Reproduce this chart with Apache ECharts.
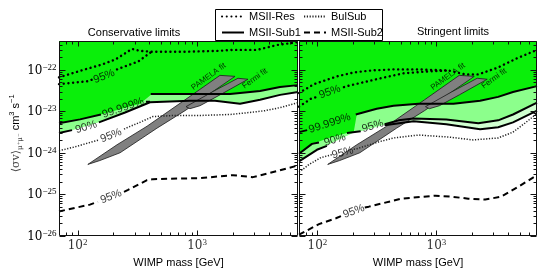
<!DOCTYPE html>
<html>
<head>
<meta charset="utf-8">
<script src="https://cdn.jsdelivr.net/npm/echarts@6.0.0/dist/echarts.min.js"></script>
<style>html,body{margin:0;padding:0;background:#fff;}#chart{width:540px;height:273px;}</style>
</head>
<body>
<div id="chart"></div>
<script>
// ===== tick values =====
const xTickMajor = [100, 1000];
const xTickMinor = [80, 90, 200, 300, 400, 500, 600, 700, 800, 900, 2000, 3000, 4000, 5000, 6000];
const yTickMajor = [1e-26, 1e-25, 1e-24, 1e-23, 1e-22];
const yTickExp = ['−26', '−25', '−24', '−23', '−22'];
const yTickMinor = [2e-26,3e-26,4e-26,5e-26,6e-26,7e-26,8e-26,9e-26,
  2e-25,3e-25,4e-25,5e-25,6e-25,7e-25,8e-25,9e-25,
  2e-24,3e-24,4e-24,5e-24,6e-24,7e-24,8e-24,9e-24,
  2e-23,3e-23,4e-23,5e-23,6e-23,7e-23,8e-23,9e-23,
  2e-22,3e-22,4e-22];
const yTop = 5e-22;

// ===== Conservative limits (left) : [mass GeV, <sigma v> cm^3/s], null = gap for a label =====
const resUpperC = [[70,6.65e-23],[95,8.7e-23],[122,1.08e-22],[160,1.35e-22],[206,1.77e-22],[286,3.22e-22],[333,2.89e-22],[420,2.74e-22],[748,2.74e-22],[1500,2.89e-22],[2000,3.05e-22],[3180,3.05e-22],[4670,4.0e-22],[6240,4.47e-22],[7000,4.7e-22]];
const resLowerC = [[70,4.54e-23],[122,5.35e-23],[135,5.96e-23],null,[214,1.03e-22],[236,1.15e-22],[321,1.59e-22],[404,2.59e-22],[420,2.74e-22]];
const sub1HiC = [[70,5.15e-24],[105,6.4e-24],[157,8.4e-24],null,[374,1.71e-23],[404,1.71e-23],null,[410,2.64e-23],[873,2.64e-23],[1890,2.64e-23],[3370,3.10e-23],[4950,3.86e-23],[7000,4.3e-23]];
const sub1LoC = [[70,2.99e-24],[90,3.52e-24],null,[151,5.43e-24],[250,9.4e-24],[404,1.66e-23],[873,1.80e-23],[1415,1.80e-23],[2290,1.53e-23],[3370,1.90e-23],[4950,2.5e-23],[7000,2.94e-23]];
const brightEdgeC = [[70,5.15e-24],[105,6.4e-24],[157,8.4e-24],[250,1.23e-23],[333,1.53e-23],[420,2.64e-23],[873,2.64e-23],[1890,2.64e-23],[3370,3.10e-23],[4950,3.86e-23],[7000,4.3e-23]];
const bulSubC = [[70,1.12e-24],[95,1.39e-24],[151,2.04e-24],null,[245,3.72e-24],[265,4.14e-24],[333,5.43e-24],[428,7.5e-24],[655,7.96e-24],[1060,7.96e-24],[1890,8.4e-24],[2770,9.4e-24],[3710,1.04e-23],[4950,1.23e-23],[7000,1.62e-23]];
const sub2C = [[70,3.84e-26],[127,5.6e-26],[148,6.6e-26],null,[245,1.14e-25],[265,1.27e-25],[382,2.19e-25],[428,2.31e-25],[1060,2.44e-25],[2000,2.88e-25],[2940,2.58e-25],[4950,3.78e-25],[7000,4.95e-25]];

// ===== Stringent limits (right) =====
const resUpperS = [[70,2.78e-23],[93.5,4.54e-23],[146,7.0e-23],[202,8.7e-23],[281,9.7e-23],[436,1.03e-22],[707,1.03e-22],[1260,9.7e-23],[1750,7.8e-23],[2250,7.8e-23],[3300,1.15e-22],[4670,1.87e-22],[7000,3.05e-22]];
const resLowerS = [[70,1.30e-23],[88,2.01e-23],[99,2.24e-23],null,[167,3.86e-23],[177,4.07e-23],[245,5.06e-23],[340,6.3e-23],[529,8.3e-23],[857,9.2e-23],[1260,9.7e-23]];
const sub1HiS = [[70,3.15e-24],[82,3.52e-24],null,[210,8.4e-24],[315,1.16e-23],[436,1.37e-23],[707,1.53e-23],[1390,1.53e-23],[2330,1.80e-23],[3300,2.24e-23],[4400,2.94e-23],[7000,4.07e-23]];
const sub1MidS = [[70,9.5e-25],[90,1.64e-24],[103,1.78e-24],null,[177,2.99e-24],[231,3.33e-24],null,[367,4.88e-24],[481,6.07e-24],[642,6.76e-24],[1210,6.4e-24],[2250,5.15e-24],[3300,6.07e-24],[4400,8.4e-24],[7000,1.62e-23]];
const sub1LoS = [[70,6.17e-25],[99,1.18e-24],[120,1.47e-24],null,[367,4.62e-24],[642,5.74e-24],[1210,4.88e-24],[2330,3.72e-24],[3300,4.14e-24],[4400,5.43e-24],[7000,1.04e-23]];
const brightEdgeS = [[70,9.0e-25],[90,1.64e-24],[125,2.28e-24],[177,2.99e-24],[202,3.24e-24],[214,8.4e-24],[315,1.16e-23],[436,1.37e-23],[707,1.53e-23],[1390,1.53e-23],[2330,1.80e-23],[3300,2.24e-23],[4400,2.94e-23],[7000,4.07e-23]];
const lightEdgeS = [[70,6.17e-25],[99,1.18e-24],[137,1.83e-24],[202,3.07e-24],[231,3.33e-24],[367,4.88e-24],[481,6.07e-24],[642,6.76e-24],[1210,6.4e-24],[2250,5.15e-24],[3300,6.07e-24],[4400,8.4e-24],[7000,1.62e-23]];
const paleEdgeS = [[70,6.17e-25],[99,1.18e-24],[137,1.83e-24],[202,3.07e-24],[231,3.33e-24],[367,4.62e-24],[642,5.74e-24],[1210,4.88e-24],[2330,3.72e-24],[3300,4.14e-24],[4400,5.43e-24],[7000,1.04e-23]];
const bulSubS = [[70,3.39e-25],[85,5.23e-25],[107,7.66e-25],[132,9.0e-25],null,[202,1.22e-24],[214,1.25e-24],[327,1.83e-24],[436,2.28e-24],[707,2.68e-24],[1260,2.40e-24],[2040,2.04e-24],[3300,2.28e-24],[4400,3.15e-24],[5660,5.43e-24],[7000,8.9e-24]];
const sub2S = [[70,1.05e-26],[103,1.89e-26],[143,2.62e-26],[160,3.0e-26],null,[250,4.77e-26],[270,5.0e-26],[509,7.8e-26],[982,9.2e-26],[1340,8.7e-26],[1850,7.8e-26],[2570,7.4e-26],[3500,8.7e-26],[4860,1.5e-25],[7000,2.88e-25]];

// ===== fit regions (same in both panels) =====
const pamela = [[122,5.23e-25],[214,1.56e-24],[382,4.38e-24],[794,1.90e-23],[1556,7.4e-23],[2080,7.0e-23],[794,1.04e-23],[462,3.92e-24],[227,1.0e-24],[154,6.5e-25]];
const fermi = [[809,1.30e-23],[1340,2.94e-23],[2200,6.3e-23],[2670,5.96e-23],[1556,2.50e-23],[1060,1.37e-23],[873,1.16e-23]];

// ===== contour labels (text, mass, sigma v, angle) =====
const labelsC = [
  {t:'95%', m:167, v:7.0e-23, r:21},
  {t:'99.999%', m:240, v:1.2e-23, r:19},
  {t:'90%', m:118, v:4.14e-24, r:17},
  {t:'95%', m:191, v:2.6e-24, r:22},
  {t:'95%', m:191, v:8.7e-26, r:21},
  {t:'PAMELA fit', m:1250, v:6.9e-23, r:36, s:8},
  {t:'Fermi fit', m:3050, v:6.2e-23, r:36, s:8}
];
const labelsS = [
  {t:'95%', m:127, v:2.94e-23, r:20},
  {t:'99.999%', m:127, v:5.15e-24, r:18},
  {t:'90%', m:140, v:2.04e-24, r:17},
  {t:'95%', m:291, v:4.38e-24, r:16},
  {t:'95%', m:163, v:1.0e-24, r:14},
  {t:'95%', m:202, v:3.84e-26, r:20},
  {t:'PAMELA fit', m:1250, v:6.9e-23, r:36, s:8},
  {t:'Fermi fit', m:3050, v:6.2e-23, r:36, s:8}
];

// ===== styles =====
const SANS = "'Liberation Sans', Arial, sans-serif";
const SERIF = "'DejaVu Serif', 'Liberation Serif', serif";
const BRIGHT = '#0aef0a', LIGHT = '#8cff8c', PALE = '#d0ffd0';
const stRes = {color:'#000', width:2.4, type:[0.1,4.6], cap:'round'};
const stBul = {color:'#222', width:1.5, type:[1.2,1.6]};
const stSub1 = {color:'#000', width:2, type:'solid'};
const stSub2 = {color:'#000', width:2, type:[6,4]};

function segs(arr){ const out=[]; let cur=[]; arr.forEach(p=>{ if(p===null){ if(cur.length) out.push(cur); cur=[]; } else cur.push(p); }); if(cur.length) out.push(cur); return out; }
function lines(name, arr, gi, style){
  return segs(arr).map(d=>({type:'line', name, xAxisIndex:gi, yAxisIndex:gi, data:d, symbol:'none', showSymbol:false,
    itemStyle:{color:'#000'}, lineStyle:style, z:5, silent:true, animation:false}));
}
// region above an edge, up to the top of the axis
function fill(arr, gi, color, z){
  const edge = arr.filter(p=>p!==null);
  const pts = edge.concat([[edge[edge.length-1][0], yTop], [edge[0][0], yTop]]);
  return {type:'custom', xAxisIndex:gi, yAxisIndex:gi, data:[[100,1e-24]], z, silent:true, animation:false, clip:true,
    renderItem(p, api){ return {type:'polygon', shape:{points: pts.map(q=>api.coord(q))}, style:{fill:color, stroke:null}}; }};
}
function poly(pts, gi){
  return {type:'custom', xAxisIndex:gi, yAxisIndex:gi, data:[[100,1e-24]], z:4, silent:true, animation:false,
    renderItem(p, api){ return {type:'polygon', shape:{points: pts.map(q=>api.coord(q))}, style:{fill:'#808080', stroke:'#1a1a1a', lineWidth:0.8}}; }};
}
function labels(arr, gi){
  return {type:'scatter', xAxisIndex:gi, yAxisIndex:gi, symbolSize:0, z:7, silent:true, animation:false,
    data: arr.map(a=>({value:[a.m,a.v], label:{show:true, formatter:a.t, rotate:a.r, fontSize:a.s||11}})),
    label:{show:true, position:'inside', color:'#000', fontFamily:SANS}};
}
const rich = {
  b:{fontFamily:SERIF, fontSize:12, color:'#333', lineHeight:15, verticalAlign:'middle'},
  e:{fontFamily:"'Liberation Serif', serif", fontSize:9, color:'#333', lineHeight:15, verticalAlign:'top'}
};
function frame(gi){
  return {type:'custom', xAxisIndex:gi, yAxisIndex:gi, data:[[100,1e-24]], z:20, silent:true, clip:false, animation:false,
    renderItem(params, api){
      const cs = params.coordSys;
      const L = Math.round(cs.x)+0.5, R = Math.round(cs.x+cs.width)-0.5, T = Math.round(cs.y)+0.5, B = Math.round(cs.y+cs.height)-0.5;
      const ch = [];
      const seg = (x1,y1,x2,y2)=>ch.push({type:'line', shape:{x1,y1,x2,y2}, style:{stroke:'#111', lineWidth:1}});
      xTickMajor.concat(xTickMinor).forEach((m,i)=>{
        const len = i<xTickMajor.length?5:3;
        const x = Math.round(api.coord([m,1e-24])[0])+0.5;
        seg(x,B,x,B-len); seg(x,T,x,T+len);
      });
      yTickMajor.concat(yTickMinor).forEach((v,i)=>{
        const len = i<yTickMajor.length?6:3;
        const y = Math.round(api.coord([100,v])[1])+0.5;
        seg(L,y,L+len,y); seg(R,y,R-len,y);
        if (gi===0 && i<yTickMajor.length){
          ch.push({type:'text', style:{text:'{b|10}{e|'+yTickExp[i]+'}', rich, x:L-3, y:y, align:'right', verticalAlign:'middle'}});
        }
      });
      ch.push({type:'rect', shape:{x:L, y:T, width:R-L, height:B-T}, style:{fill:'none', stroke:'#111', lineWidth:1}});
      return {type:'group', children:ch};
    }};
}

const xFmt = v => { const e = Math.log10(v); const r = Math.round(e); return Math.abs(e-r)>1e-6 ? '' : '{b|10}{e|'+r+'}'; };

const series = [];
// left panel
series.push(fill(sub1LoC, 0, LIGHT, 1));
series.push(fill(brightEdgeC, 0, BRIGHT, 2));
series.push(poly(pamela, 0), poly(fermi, 0));
series.push(...lines('MSII-Res', resUpperC, 0, stRes), ...lines('MSII-Res', resLowerC, 0, stRes));
series.push(...lines('MSII-Sub1', sub1HiC, 0, stSub1), ...lines('MSII-Sub1', sub1LoC, 0, stSub1));
series.push(...lines('BulSub', bulSubC, 0, stBul));
series.push(...lines('MSII-Sub2', sub2C, 0, stSub2));
series.push(labels(labelsC, 0), frame(0));
// right panel
series.push(fill(paleEdgeS, 1, PALE, 1));
series.push(fill(lightEdgeS, 1, LIGHT, 2));
series.push(fill(brightEdgeS, 1, BRIGHT, 3));
series.push(poly(pamela, 1), poly(fermi, 1));
series.push(...lines('MSII-Res', resUpperS, 1, stRes), ...lines('MSII-Res', resLowerS, 1, stRes));
series.push(...lines('MSII-Sub1', sub1HiS, 1, stSub1), ...lines('MSII-Sub1', sub1MidS, 1, stSub1), ...lines('MSII-Sub1', sub1LoS, 1, stSub1));
series.push(...lines('BulSub', bulSubS, 1, stBul));
series.push(...lines('MSII-Sub2', sub2S, 1, stSub2));
series.push(labels(labelsS, 1), frame(1));

const chart = echarts.init(document.getElementById('chart'), null, {renderer:'canvas'});
const legendBase = {orient:'vertical', top:11, itemWidth:22, itemHeight:11, itemGap:5, padding:0, selectedMode:false, z:10,
  itemStyle:{opacity:0}, textStyle:{fontSize:11, fontFamily:SANS, color:'#000'}};
chart.setOption({
  animation:false,
  backgroundColor:'#fff',
  grid:[{left:59, top:41, width:239, height:199}, {left:299, top:41, width:239, height:199}],
  xAxis:[0,1].map(i=>({type:'log', logBase:10, gridIndex:i, min:70, max:7000,
    axisLine:{show:false}, axisTick:{show:false}, splitLine:{show:false}, minorTick:{show:false},
    axisLabel:{formatter:xFmt, rich, margin:3},
    name:'WIMP mass [GeV]', nameLocation:'middle', nameGap:16,
    nameTextStyle:{fontSize:11, fontFamily:SANS, color:'#000'}})),
  yAxis:[0,1].map(i=>({type:'log', logBase:10, gridIndex:i, min:1e-26, max:yTop,
    axisLine:{show:false}, axisTick:{show:false}, splitLine:{show:false}, minorTick:{show:false},
    axisLabel:{show:false},
    name: i===0 ? '{s|⟨σv⟩}{u|μ⁺μ⁻}{n| cm}{p|3}{n| s}{p|−1}' : '',
    nameLocation:'middle', nameGap:35, nameRotate:90,
    nameTextStyle:{padding:[0,0,0,10], rich:{
      s:{fontFamily:SERIF, fontSize:11, color:'#444', lineHeight:16, verticalAlign:'middle'},
      u:{fontFamily:SERIF, fontSize:7, color:'#444', lineHeight:16, verticalAlign:'bottom'},
      n:{fontFamily:SANS, fontSize:11, color:'#000', lineHeight:16, verticalAlign:'middle'},
      p:{fontFamily:SANS, fontSize:7.5, color:'#000', lineHeight:16, verticalAlign:'top'}
    }}})),
  legend:[
    Object.assign({}, legendBase, {left:221, data:['MSII-Res','MSII-Sub1']}),
    Object.assign({}, legendBase, {left:303, data:['BulSub','MSII-Sub2']})
  ],
  graphic:[
    {type:'rect', z:1, shape:{x:215.5, y:9.5, width:167, height:31}, style:{fill:'#fff', stroke:'#000', lineWidth:1}},
    {type:'text', z:1, style:{text:'Conservative limits', x:134, y:33, align:'center', verticalAlign:'middle', fontSize:11, fontFamily:SANS, fill:'#000'}},
    {type:'text', z:1, style:{text:'Stringent limits', x:453, y:32, align:'center', verticalAlign:'middle', fontSize:11, fontFamily:SANS, fill:'#000'}}
  ],
  series
});
</script>
</body>
</html>
